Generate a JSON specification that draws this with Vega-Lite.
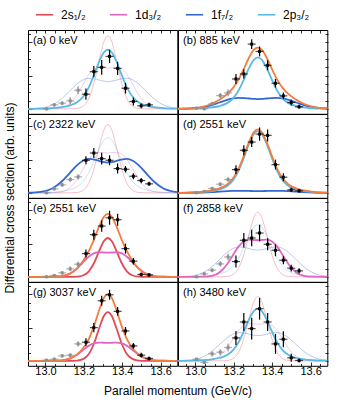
{
"$schema":"https://vega.github.io/schema/vega-lite/v6.json",
"padding":{"left":3,"top":5,"right":8,"bottom":2},
"bounds":"flush",
"data":{"values":[
{"r":1,"c":1,"x":12.909,"2p₃/₂":0.001,"rs":0,"rd":0,"rf":0.003},
{"r":1,"c":1,"x":12.975,"2p₃/₂":0.005,"rs":0,"rd":0,"rf":0.025},
{"r":1,"c":1,"x":13.035,"2p₃/₂":0.02,"rs":0,"rd":0.004,"rf":0.118},
{"r":1,"c":1,"x":13.085,"2p₃/₂":0.05,"rs":0,"rd":0.036,"rf":0.306},
{"r":1,"c":1,"x":13.125,"2p₃/₂":0.096,"rs":0,"rd":0.149,"rf":0.529},
{"r":1,"c":1,"x":13.165,"2p₃/₂":0.198,"rs":0.013,"rd":0.424,"rf":0.753},
{"r":1,"c":1,"x":13.195,"2p₃/₂":0.356,"rs":0.075,"rd":0.728,"rf":0.872},
{"r":1,"c":1,"x":13.225,"2p₃/₂":0.639,"rs":0.297,"rd":1.024,"rf":0.92},
{"r":1,"c":1,"x":13.255,"2p₃/₂":1.054,"rs":0.825,"rd":1.206,"rf":0.904},
{"r":1,"c":1,"x":13.28,"2p₃/₂":1.426,"rs":1.467,"rd":1.25,"rf":0.866},
{"r":1,"c":1,"x":13.305,"2p₃/₂":1.703,"rs":2.031,"rd":1.238,"rf":0.833},
{"r":1,"c":1,"x":13.325,"2p₃/₂":1.78,"rs":2.2,"rd":1.23,"rf":0.822},
{"r":1,"c":1,"x":13.345,"2p₃/₂":1.703,"rs":2.031,"rd":1.238,"rf":0.833},
{"r":1,"c":1,"x":13.37,"2p₃/₂":1.426,"rs":1.467,"rd":1.25,"rf":0.866},
{"r":1,"c":1,"x":13.395,"2p₃/₂":1.054,"rs":0.825,"rd":1.206,"rf":0.904},
{"r":1,"c":1,"x":13.425,"2p₃/₂":0.639,"rs":0.297,"rd":1.024,"rf":0.92},
{"r":1,"c":1,"x":13.455,"2p₃/₂":0.356,"rs":0.075,"rd":0.728,"rf":0.872},
{"r":1,"c":1,"x":13.485,"2p₃/₂":0.198,"rs":0.013,"rd":0.424,"rf":0.753},
{"r":1,"c":1,"x":13.525,"2p₃/₂":0.096,"rs":0,"rd":0.149,"rf":0.529},
{"r":1,"c":1,"x":13.565,"2p₃/₂":0.05,"rs":0,"rd":0.036,"rf":0.306},
{"r":1,"c":1,"x":13.615,"2p₃/₂":0.02,"rs":0,"rd":0.004,"rf":0.118},
{"r":1,"c":1,"x":13.687,"2p₃/₂":0.004,"rs":0,"rd":0,"rf":0.017},

{"r":1,"c":2,"x":12.909,"2p₃/₂":0.001,"1f₇/₂":0.001,"t":0.002},
{"r":1,"c":2,"x":12.975,"2p₃/₂":0.005,"1f₇/₂":0.009,"t":0.014},
{"r":1,"c":2,"x":13.035,"2p₃/₂":0.017,"1f₇/₂":0.042,"t":0.059},
{"r":1,"c":2,"x":13.085,"2p₃/₂":0.043,"1f₇/₂":0.11,"t":0.153},
{"r":1,"c":2,"x":13.125,"2p₃/₂":0.084,"1f₇/₂":0.19,"t":0.274},
{"r":1,"c":2,"x":13.165,"2p₃/₂":0.172,"1f₇/₂":0.27,"t":0.442},
{"r":1,"c":2,"x":13.195,"2p₃/₂":0.31,"1f₇/₂":0.313,"t":0.623},
{"r":1,"c":2,"x":13.225,"2p₃/₂":0.556,"1f₇/₂":0.33,"t":0.886},
{"r":1,"c":2,"x":13.255,"2p₃/₂":0.918,"1f₇/₂":0.324,"t":1.242},
{"r":1,"c":2,"x":13.28,"2p₃/₂":1.242,"1f₇/₂":0.311,"t":1.553},
{"r":1,"c":2,"x":13.305,"2p₃/₂":1.483,"1f₇/₂":0.299,"t":1.782},
{"r":1,"c":2,"x":13.325,"2p₃/₂":1.55,"1f₇/₂":0.295,"t":1.845},
{"r":1,"c":2,"x":13.345,"2p₃/₂":1.483,"1f₇/₂":0.299,"t":1.782},
{"r":1,"c":2,"x":13.37,"2p₃/₂":1.242,"1f₇/₂":0.311,"t":1.553},
{"r":1,"c":2,"x":13.395,"2p₃/₂":0.918,"1f₇/₂":0.324,"t":1.242},
{"r":1,"c":2,"x":13.425,"2p₃/₂":0.556,"1f₇/₂":0.33,"t":0.886},
{"r":1,"c":2,"x":13.455,"2p₃/₂":0.31,"1f₇/₂":0.313,"t":0.623},
{"r":1,"c":2,"x":13.485,"2p₃/₂":0.172,"1f₇/₂":0.27,"t":0.442},
{"r":1,"c":2,"x":13.525,"2p₃/₂":0.084,"1f₇/₂":0.19,"t":0.274},
{"r":1,"c":2,"x":13.565,"2p₃/₂":0.043,"1f₇/₂":0.11,"t":0.153},
{"r":1,"c":2,"x":13.615,"2p₃/₂":0.017,"1f₇/₂":0.042,"t":0.059},
{"r":1,"c":2,"x":13.687,"2p₃/₂":0.003,"1f₇/₂":0.006,"t":0.009},

{"r":2,"c":1,"x":12.909,"1f₇/₂":0.003,"rs":0,"rq":0.001,"rd":0},
{"r":2,"c":1,"x":12.975,"1f₇/₂":0.028,"rs":0,"rq":0.005,"rd":0},
{"r":2,"c":1,"x":13.035,"1f₇/₂":0.131,"rs":0,"rq":0.018,"rd":0.004},
{"r":2,"c":1,"x":13.085,"1f₇/₂":0.34,"rs":0,"rq":0.046,"rd":0.035},
{"r":2,"c":1,"x":13.125,"1f₇/₂":0.587,"rs":0,"rq":0.09,"rd":0.145},
{"r":2,"c":1,"x":13.165,"1f₇/₂":0.835,"rs":0.012,"rq":0.184,"rd":0.414},
{"r":2,"c":1,"x":13.195,"1f₇/₂":0.967,"rs":0.07,"rq":0.332,"rd":0.71},
{"r":2,"c":1,"x":13.225,"1f₇/₂":1.02,"rs":0.278,"rq":0.596,"rd":0.999},
{"r":2,"c":1,"x":13.255,"1f₇/₂":1.003,"rs":0.773,"rq":0.983,"rd":1.177},
{"r":2,"c":1,"x":13.28,"1f₇/₂":0.96,"rs":1.374,"rq":1.33,"rd":1.22},
{"r":2,"c":1,"x":13.305,"1f₇/₂":0.923,"rs":1.901,"rq":1.589,"rd":1.208},
{"r":2,"c":1,"x":13.325,"1f₇/₂":0.912,"rs":2.06,"rq":1.66,"rd":1.2},
{"r":2,"c":1,"x":13.345,"1f₇/₂":0.923,"rs":1.901,"rq":1.589,"rd":1.208},
{"r":2,"c":1,"x":13.37,"1f₇/₂":0.96,"rs":1.374,"rq":1.33,"rd":1.22},
{"r":2,"c":1,"x":13.395,"1f₇/₂":1.003,"rs":0.773,"rq":0.983,"rd":1.177},
{"r":2,"c":1,"x":13.425,"1f₇/₂":1.02,"rs":0.278,"rq":0.596,"rd":0.999},
{"r":2,"c":1,"x":13.455,"1f₇/₂":0.967,"rs":0.07,"rq":0.332,"rd":0.71},
{"r":2,"c":1,"x":13.485,"1f₇/₂":0.835,"rs":0.012,"rq":0.184,"rd":0.414},
{"r":2,"c":1,"x":13.525,"1f₇/₂":0.587,"rs":0,"rq":0.09,"rd":0.145},
{"r":2,"c":1,"x":13.565,"1f₇/₂":0.34,"rs":0,"rq":0.046,"rd":0.035},
{"r":2,"c":1,"x":13.615,"1f₇/₂":0.131,"rs":0,"rq":0.018,"rd":0.004},
{"r":2,"c":1,"x":13.687,"1f₇/₂":0.019,"rs":0,"rq":0.003,"rd":0},

{"r":2,"c":2,"x":12.909,"2p₃/₂":0.001,"1f₇/₂":0,"t":0.001},
{"r":2,"c":2,"x":12.975,"2p₃/₂":0.006,"1f₇/₂":0.002,"t":0.008},
{"r":2,"c":2,"x":13.035,"2p₃/₂":0.02,"1f₇/₂":0.008,"t":0.028},
{"r":2,"c":2,"x":13.085,"2p₃/₂":0.052,"1f₇/₂":0.02,"t":0.072},
{"r":2,"c":2,"x":13.125,"2p₃/₂":0.1,"1f₇/₂":0.035,"t":0.135},
{"r":2,"c":2,"x":13.165,"2p₃/₂":0.206,"1f₇/₂":0.049,"t":0.255},
{"r":2,"c":2,"x":13.195,"2p₃/₂":0.372,"1f₇/₂":0.057,"t":0.429},
{"r":2,"c":2,"x":13.225,"2p₃/₂":0.668,"1f₇/₂":0.06,"t":0.728},
{"r":2,"c":2,"x":13.255,"2p₃/₂":1.101,"1f₇/₂":0.059,"t":1.16},
{"r":2,"c":2,"x":13.28,"2p₃/₂":1.49,"1f₇/₂":0.056,"t":1.546},
{"r":2,"c":2,"x":13.305,"2p₃/₂":1.78,"1f₇/₂":0.054,"t":1.834},
{"r":2,"c":2,"x":13.325,"2p₃/₂":1.86,"1f₇/₂":0.054,"t":1.914},
{"r":2,"c":2,"x":13.345,"2p₃/₂":1.78,"1f₇/₂":0.054,"t":1.834},
{"r":2,"c":2,"x":13.37,"2p₃/₂":1.49,"1f₇/₂":0.056,"t":1.546},
{"r":2,"c":2,"x":13.395,"2p₃/₂":1.101,"1f₇/₂":0.059,"t":1.16},
{"r":2,"c":2,"x":13.425,"2p₃/₂":0.668,"1f₇/₂":0.06,"t":0.728},
{"r":2,"c":2,"x":13.455,"2p₃/₂":0.372,"1f₇/₂":0.057,"t":0.429},
{"r":2,"c":2,"x":13.485,"2p₃/₂":0.206,"1f₇/₂":0.049,"t":0.255},
{"r":2,"c":2,"x":13.525,"2p₃/₂":0.1,"1f₇/₂":0.035,"t":0.135},
{"r":2,"c":2,"x":13.565,"2p₃/₂":0.052,"1f₇/₂":0.02,"t":0.072},
{"r":2,"c":2,"x":13.615,"2p₃/₂":0.02,"1f₇/₂":0.008,"t":0.028},
{"r":2,"c":2,"x":13.687,"2p₃/₂":0.004,"1f₇/₂":0.001,"t":0.005},

{"r":3,"c":1,"x":12.909,"2s₁/₂":0,"1d₃/₂":0,"t":0},
{"r":3,"c":1,"x":12.975,"2s₁/₂":0,"1d₃/₂":0,"t":0},
{"r":3,"c":1,"x":13.035,"2s₁/₂":0,"1d₃/₂":0.002,"t":0.002},
{"r":3,"c":1,"x":13.085,"2s₁/₂":0,"1d₃/₂":0.021,"t":0.021},
{"r":3,"c":1,"x":13.125,"2s₁/₂":0,"1d₃/₂":0.088,"t":0.088},
{"r":3,"c":1,"x":13.165,"2s₁/₂":0.007,"1d₃/₂":0.251,"t":0.258},
{"r":3,"c":1,"x":13.195,"2s₁/₂":0.04,"1d₃/₂":0.431,"t":0.471},
{"r":3,"c":1,"x":13.225,"2s₁/₂":0.158,"1d₃/₂":0.606,"t":0.764},
{"r":3,"c":1,"x":13.255,"2s₁/₂":0.439,"1d₃/₂":0.714,"t":1.153},
{"r":3,"c":1,"x":13.28,"2s₁/₂":0.78,"1d₃/₂":0.74,"t":1.52},
{"r":3,"c":1,"x":13.305,"2s₁/₂":1.08,"1d₃/₂":0.733,"t":1.813},
{"r":3,"c":1,"x":13.325,"2s₁/₂":1.17,"1d₃/₂":0.728,"t":1.898},
{"r":3,"c":1,"x":13.345,"2s₁/₂":1.08,"1d₃/₂":0.733,"t":1.813},
{"r":3,"c":1,"x":13.37,"2s₁/₂":0.78,"1d₃/₂":0.74,"t":1.52},
{"r":3,"c":1,"x":13.395,"2s₁/₂":0.439,"1d₃/₂":0.714,"t":1.153},
{"r":3,"c":1,"x":13.425,"2s₁/₂":0.158,"1d₃/₂":0.606,"t":0.764},
{"r":3,"c":1,"x":13.455,"2s₁/₂":0.04,"1d₃/₂":0.431,"t":0.471},
{"r":3,"c":1,"x":13.485,"2s₁/₂":0.007,"1d₃/₂":0.251,"t":0.258},
{"r":3,"c":1,"x":13.525,"2s₁/₂":0,"1d₃/₂":0.088,"t":0.088},
{"r":3,"c":1,"x":13.565,"2s₁/₂":0,"1d₃/₂":0.021,"t":0.021},
{"r":3,"c":1,"x":13.615,"2s₁/₂":0,"1d₃/₂":0.002,"t":0.002},
{"r":3,"c":1,"x":13.687,"2s₁/₂":0,"1d₃/₂":0,"t":0},

{"r":3,"c":2,"x":12.909,"1d₃/₂":0,"rs":0,"rq":0.001,"rf":0.003},
{"r":3,"c":2,"x":12.975,"1d₃/₂":0,"rs":0,"rq":0.005,"rf":0.024},
{"r":3,"c":2,"x":13.035,"1d₃/₂":0.003,"rs":0,"rq":0.017,"rf":0.115},
{"r":3,"c":2,"x":13.085,"1d₃/₂":0.032,"rs":0,"rq":0.044,"rf":0.3},
{"r":3,"c":2,"x":13.125,"1d₃/₂":0.133,"rs":0,"rq":0.085,"rf":0.518},
{"r":3,"c":2,"x":13.165,"1d₃/₂":0.38,"rs":0.012,"rq":0.174,"rf":0.737},
{"r":3,"c":2,"x":13.195,"1d₃/₂":0.652,"rs":0.066,"rq":0.314,"rf":0.853},
{"r":3,"c":2,"x":13.225,"1d₃/₂":0.917,"rs":0.263,"rq":0.564,"rf":0.9},
{"r":3,"c":2,"x":13.255,"1d₃/₂":1.081,"rs":0.731,"rq":0.929,"rf":0.885},
{"r":3,"c":2,"x":13.28,"1d₃/₂":1.12,"rs":1.301,"rq":1.258,"rf":0.847},
{"r":3,"c":2,"x":13.305,"1d₃/₂":1.109,"rs":1.8,"rq":1.502,"rf":0.815},
{"r":3,"c":2,"x":13.325,"1d₃/₂":1.102,"rs":1.95,"rq":1.57,"rf":0.805},
{"r":3,"c":2,"x":13.345,"1d₃/₂":1.109,"rs":1.8,"rq":1.502,"rf":0.815},
{"r":3,"c":2,"x":13.37,"1d₃/₂":1.12,"rs":1.301,"rq":1.258,"rf":0.847},
{"r":3,"c":2,"x":13.395,"1d₃/₂":1.081,"rs":0.731,"rq":0.929,"rf":0.885},
{"r":3,"c":2,"x":13.425,"1d₃/₂":0.917,"rs":0.263,"rq":0.564,"rf":0.9},
{"r":3,"c":2,"x":13.455,"1d₃/₂":0.652,"rs":0.066,"rq":0.314,"rf":0.853},
{"r":3,"c":2,"x":13.485,"1d₃/₂":0.38,"rs":0.012,"rq":0.174,"rf":0.737},
{"r":3,"c":2,"x":13.525,"1d₃/₂":0.133,"rs":0,"rq":0.085,"rf":0.518},
{"r":3,"c":2,"x":13.565,"1d₃/₂":0.032,"rs":0,"rq":0.044,"rf":0.3},
{"r":3,"c":2,"x":13.615,"1d₃/₂":0.003,"rs":0,"rq":0.017,"rf":0.115},
{"r":3,"c":2,"x":13.687,"1d₃/₂":0,"rs":0,"rq":0.003,"rf":0.017},

{"r":4,"c":1,"x":12.909,"2s₁/₂":0,"1d₃/₂":0,"t":0},
{"r":4,"c":1,"x":12.975,"2s₁/₂":0,"1d₃/₂":0,"t":0},
{"r":4,"c":1,"x":13.035,"2s₁/₂":0,"1d₃/₂":0.002,"t":0.002},
{"r":4,"c":1,"x":13.085,"2s₁/₂":0,"1d₃/₂":0.016,"t":0.016},
{"r":4,"c":1,"x":13.125,"2s₁/₂":0,"1d₃/₂":0.065,"t":0.065},
{"r":4,"c":1,"x":13.165,"2s₁/₂":0.009,"1d₃/₂":0.186,"t":0.195},
{"r":4,"c":1,"x":13.195,"2s₁/₂":0.05,"1d₃/₂":0.32,"t":0.37},
{"r":4,"c":1,"x":13.225,"2s₁/₂":0.198,"1d₃/₂":0.45,"t":0.648},
{"r":4,"c":1,"x":13.255,"2s₁/₂":0.551,"1d₃/₂":0.531,"t":1.082},
{"r":4,"c":1,"x":13.28,"2s₁/₂":0.98,"1d₃/₂":0.55,"t":1.53},
{"r":4,"c":1,"x":13.305,"2s₁/₂":1.357,"1d₃/₂":0.545,"t":1.902},
{"r":4,"c":1,"x":13.325,"2s₁/₂":1.47,"1d₃/₂":0.541,"t":2.011},
{"r":4,"c":1,"x":13.345,"2s₁/₂":1.357,"1d₃/₂":0.545,"t":1.902},
{"r":4,"c":1,"x":13.37,"2s₁/₂":0.98,"1d₃/₂":0.55,"t":1.53},
{"r":4,"c":1,"x":13.395,"2s₁/₂":0.551,"1d₃/₂":0.531,"t":1.082},
{"r":4,"c":1,"x":13.425,"2s₁/₂":0.198,"1d₃/₂":0.45,"t":0.648},
{"r":4,"c":1,"x":13.455,"2s₁/₂":0.05,"1d₃/₂":0.32,"t":0.37},
{"r":4,"c":1,"x":13.485,"2s₁/₂":0.009,"1d₃/₂":0.186,"t":0.195},
{"r":4,"c":1,"x":13.525,"2s₁/₂":0,"1d₃/₂":0.065,"t":0.065},
{"r":4,"c":1,"x":13.565,"2s₁/₂":0,"1d₃/₂":0.016,"t":0.016},
{"r":4,"c":1,"x":13.615,"2s₁/₂":0,"1d₃/₂":0.002,"t":0.002},
{"r":4,"c":1,"x":13.687,"2s₁/₂":0,"1d₃/₂":0,"t":0},

{"r":4,"c":2,"x":12.909,"2p₃/₂":0.001,"rs":0,"rd":0,"rf":0.003},
{"r":4,"c":2,"x":12.975,"2p₃/₂":0.005,"rs":0,"rd":0,"rf":0.023},
{"r":4,"c":2,"x":13.035,"2p₃/₂":0.017,"rs":0,"rd":0.003,"rf":0.109},
{"r":4,"c":2,"x":13.085,"2p₃/₂":0.044,"rs":0,"rd":0.032,"rf":0.283},
{"r":4,"c":2,"x":13.125,"2p₃/₂":0.085,"rs":0,"rd":0.133,"rf":0.489},
{"r":4,"c":2,"x":13.165,"2p₃/₂":0.174,"rs":0.012,"rd":0.38,"rf":0.696},
{"r":4,"c":2,"x":13.195,"2p₃/₂":0.314,"rs":0.066,"rd":0.652,"rf":0.806},
{"r":4,"c":2,"x":13.225,"2p₃/₂":0.564,"rs":0.262,"rd":0.917,"rf":0.85},
{"r":4,"c":2,"x":13.255,"2p₃/₂":0.929,"rs":0.728,"rd":1.081,"rf":0.836},
{"r":4,"c":2,"x":13.28,"2p₃/₂":1.258,"rs":1.294,"rd":1.12,"rf":0.8},
{"r":4,"c":2,"x":13.305,"2p₃/₂":1.502,"rs":1.791,"rd":1.109,"rf":0.769},
{"r":4,"c":2,"x":13.325,"2p₃/₂":1.57,"rs":1.94,"rd":1.102,"rf":0.76},
{"r":4,"c":2,"x":13.345,"2p₃/₂":1.502,"rs":1.791,"rd":1.109,"rf":0.769},
{"r":4,"c":2,"x":13.37,"2p₃/₂":1.258,"rs":1.294,"rd":1.12,"rf":0.8},
{"r":4,"c":2,"x":13.395,"2p₃/₂":0.929,"rs":0.728,"rd":1.081,"rf":0.836},
{"r":4,"c":2,"x":13.425,"2p₃/₂":0.564,"rs":0.262,"rd":0.917,"rf":0.85},
{"r":4,"c":2,"x":13.455,"2p₃/₂":0.314,"rs":0.066,"rd":0.652,"rf":0.806},
{"r":4,"c":2,"x":13.485,"2p₃/₂":0.174,"rs":0.012,"rd":0.38,"rf":0.696},
{"r":4,"c":2,"x":13.525,"2p₃/₂":0.085,"rs":0,"rd":0.133,"rf":0.489},
{"r":4,"c":2,"x":13.565,"2p₃/₂":0.044,"rs":0,"rd":0.032,"rf":0.283},
{"r":4,"c":2,"x":13.615,"2p₃/₂":0.017,"rs":0,"rd":0.003,"rf":0.109},
{"r":4,"c":2,"x":13.687,"2p₃/₂":0.003,"rs":0,"rd":0,"rf":0.016},

{"r":1,"c":1,"px":13.005,"py":0,"lo":-0.05,"hi":0.05,"g":1},
{"r":1,"c":1,"px":13.046,"py":0.12,"lo":0.07,"hi":0.17,"g":1},
{"r":1,"c":1,"px":13.087,"py":0.17,"lo":0.11,"hi":0.23,"g":1},
{"r":1,"c":1,"px":13.129,"py":0.24,"lo":0.13,"hi":0.35,"g":1},
{"r":1,"c":1,"px":13.17,"py":0.56,"lo":0.44,"hi":0.68,"g":1},
{"r":1,"c":1,"px":13.211,"py":0.44,"lo":0.27,"hi":0.61,"g":0},
{"r":1,"c":1,"px":13.252,"py":1.12,"lo":0.95,"hi":1.29,"g":0},
{"r":1,"c":1,"px":13.293,"py":1.25,"lo":1.03,"hi":1.47,"g":0},
{"r":1,"c":1,"px":13.334,"py":1.58,"lo":1.38,"hi":1.78,"g":0},
{"r":1,"c":1,"px":13.376,"py":1.22,"lo":1.02,"hi":1.42,"g":0},
{"r":1,"c":1,"px":13.417,"py":0.62,"lo":0.46,"hi":0.78,"g":0},
{"r":1,"c":1,"px":13.458,"py":0.22,"lo":0.1,"hi":0.34,"g":0},
{"r":1,"c":1,"px":13.499,"py":0.09,"lo":0.02,"hi":0.16,"g":0},
{"r":1,"c":1,"px":13.54,"py":0.12,"lo":0.06,"hi":0.18,"g":0},

{"r":1,"c":2,"px":13.005,"py":0.02,"lo":-0.02,"hi":0.06,"g":1},
{"r":1,"c":2,"px":13.046,"py":0,"lo":-0.04,"hi":0.04,"g":1},
{"r":1,"c":2,"px":13.087,"py":0.15,"lo":0.09,"hi":0.21,"g":1},
{"r":1,"c":2,"px":13.129,"py":0.4,"lo":0.32,"hi":0.48,"g":1},
{"r":1,"c":2,"px":13.17,"py":0.48,"lo":0.38,"hi":0.58,"g":1},
{"r":1,"c":2,"px":13.211,"py":0.9,"lo":0.75,"hi":1.05,"g":0},
{"r":1,"c":2,"px":13.252,"py":1.05,"lo":0.91,"hi":1.19,"g":0},
{"r":1,"c":2,"px":13.293,"py":1.95,"lo":1.8,"hi":2.1,"g":0},
{"r":1,"c":2,"px":13.334,"py":1.73,"lo":1.58,"hi":1.88,"g":0},
{"r":1,"c":2,"px":13.376,"py":1.31,"lo":1.16,"hi":1.46,"g":0},
{"r":1,"c":2,"px":13.417,"py":0.77,"lo":0.64,"hi":0.9,"g":0},
{"r":1,"c":2,"px":13.458,"py":0.39,"lo":0.29,"hi":0.49,"g":0},
{"r":1,"c":2,"px":13.499,"py":0.19,"lo":0.1,"hi":0.28,"g":0},
{"r":1,"c":2,"px":13.54,"py":0.06,"lo":0,"hi":0.12,"g":0},

{"r":2,"c":1,"px":13.005,"py":0,"lo":-0.04,"hi":0.04,"g":1},
{"r":2,"c":1,"px":13.046,"py":0.12,"lo":0.07,"hi":0.17,"g":1},
{"r":2,"c":1,"px":13.087,"py":0.24,"lo":0.18,"hi":0.3,"g":1},
{"r":2,"c":1,"px":13.129,"py":0.4,"lo":0.33,"hi":0.47,"g":1},
{"r":2,"c":1,"px":13.17,"py":0.48,"lo":0.4,"hi":0.56,"g":1},
{"r":2,"c":1,"px":13.211,"py":0.98,"lo":0.86,"hi":1.1,"g":0},
{"r":2,"c":1,"px":13.252,"py":1.2,"lo":1.05,"hi":1.35,"g":0},
{"r":2,"c":1,"px":13.293,"py":1.03,"lo":0.85,"hi":1.21,"g":0},
{"r":2,"c":1,"px":13.334,"py":0.98,"lo":0.83,"hi":1.13,"g":0},
{"r":2,"c":1,"px":13.376,"py":0.73,"lo":0.58,"hi":0.88,"g":0},
{"r":2,"c":1,"px":13.417,"py":0.71,"lo":0.61,"hi":0.81,"g":0},
{"r":2,"c":1,"px":13.458,"py":0.5,"lo":0.41,"hi":0.59,"g":0},
{"r":2,"c":1,"px":13.499,"py":0.37,"lo":0.29,"hi":0.45,"g":0},
{"r":2,"c":1,"px":13.54,"py":0.27,"lo":0.21,"hi":0.33,"g":0},

{"r":2,"c":2,"px":13.005,"py":0,"lo":-0.04,"hi":0.04,"g":1},
{"r":2,"c":2,"px":13.046,"py":0.04,"lo":0,"hi":0.08,"g":1},
{"r":2,"c":2,"px":13.087,"py":0.13,"lo":0.08,"hi":0.18,"g":1},
{"r":2,"c":2,"px":13.129,"py":0.26,"lo":0.2,"hi":0.32,"g":1},
{"r":2,"c":2,"px":13.17,"py":0.4,"lo":0.33,"hi":0.47,"g":1},
{"r":2,"c":2,"px":13.211,"py":0.7,"lo":0.57,"hi":0.83,"g":0},
{"r":2,"c":2,"px":13.252,"py":1.28,"lo":1.13,"hi":1.43,"g":0},
{"r":2,"c":2,"px":13.293,"py":1.53,"lo":1.38,"hi":1.68,"g":0},
{"r":2,"c":2,"px":13.334,"py":1.77,"lo":1.57,"hi":1.97,"g":0},
{"r":2,"c":2,"px":13.376,"py":1.73,"lo":1.55,"hi":1.91,"g":0},
{"r":2,"c":2,"px":13.417,"py":0.85,"lo":0.7,"hi":1.0,"g":0},
{"r":2,"c":2,"px":13.458,"py":0.47,"lo":0.35,"hi":0.59,"g":0},
{"r":2,"c":2,"px":13.499,"py":0.09,"lo":0.03,"hi":0.15,"g":0},
{"r":2,"c":2,"px":13.54,"py":0.06,"lo":0.01,"hi":0.11,"g":0},

{"r":3,"c":1,"px":13.005,"py":0,"lo":-0.04,"hi":0.04,"g":1},
{"r":3,"c":1,"px":13.046,"py":0.04,"lo":0,"hi":0.08,"g":1},
{"r":3,"c":1,"px":13.087,"py":0.12,"lo":0.07,"hi":0.17,"g":1},
{"r":3,"c":1,"px":13.129,"py":0.24,"lo":0.17,"hi":0.31,"g":1},
{"r":3,"c":1,"px":13.17,"py":0.38,"lo":0.3,"hi":0.46,"g":1},
{"r":3,"c":1,"px":13.211,"py":0.7,"lo":0.58,"hi":0.82,"g":0},
{"r":3,"c":1,"px":13.252,"py":1.27,"lo":1.12,"hi":1.42,"g":0},
{"r":3,"c":1,"px":13.293,"py":1.53,"lo":1.36,"hi":1.7,"g":0},
{"r":3,"c":1,"px":13.334,"py":1.78,"lo":1.57,"hi":1.99,"g":0},
{"r":3,"c":1,"px":13.376,"py":1.72,"lo":1.54,"hi":1.9,"g":0},
{"r":3,"c":1,"px":13.417,"py":0.85,"lo":0.7,"hi":1.0,"g":0},
{"r":3,"c":1,"px":13.458,"py":0.47,"lo":0.37,"hi":0.57,"g":0},
{"r":3,"c":1,"px":13.499,"py":0.07,"lo":0.01,"hi":0.13,"g":0},
{"r":3,"c":1,"px":13.54,"py":0.06,"lo":0.01,"hi":0.11,"g":0},

{"r":3,"c":2,"px":13.005,"py":0,"lo":-0.04,"hi":0.04,"g":1},
{"r":3,"c":2,"px":13.046,"py":0.09,"lo":0.04,"hi":0.14,"g":1},
{"r":3,"c":2,"px":13.087,"py":0.2,"lo":0.14,"hi":0.26,"g":1},
{"r":3,"c":2,"px":13.129,"py":0.39,"lo":0.31,"hi":0.47,"g":1},
{"r":3,"c":2,"px":13.17,"py":0.6,"lo":0.5,"hi":0.7,"g":1},
{"r":3,"c":2,"px":13.211,"py":0.46,"lo":0.28,"hi":0.64,"g":0},
{"r":3,"c":2,"px":13.252,"py":1.1,"lo":0.88,"hi":1.32,"g":0},
{"r":3,"c":2,"px":13.293,"py":1.17,"lo":0.92,"hi":1.42,"g":0},
{"r":3,"c":2,"px":13.334,"py":1.32,"lo":1.07,"hi":1.57,"g":0},
{"r":3,"c":2,"px":13.376,"py":0.98,"lo":0.8,"hi":1.16,"g":0},
{"r":3,"c":2,"px":13.417,"py":0.8,"lo":0.62,"hi":0.98,"g":0},
{"r":3,"c":2,"px":13.458,"py":0.5,"lo":0.38,"hi":0.62,"g":0},
{"r":3,"c":2,"px":13.499,"py":0.26,"lo":0.16,"hi":0.36,"g":0},
{"r":3,"c":2,"px":13.54,"py":0.18,"lo":0.1,"hi":0.26,"g":0},

{"r":4,"c":1,"px":13.005,"py":0.02,"lo":-0.02,"hi":0.06,"g":1},
{"r":4,"c":1,"px":13.046,"py":0.05,"lo":0.01,"hi":0.09,"g":1},
{"r":4,"c":1,"px":13.087,"py":0.15,"lo":0.1,"hi":0.2,"g":1},
{"r":4,"c":1,"px":13.129,"py":0.17,"lo":0.11,"hi":0.23,"g":1},
{"r":4,"c":1,"px":13.17,"py":0.51,"lo":0.43,"hi":0.59,"g":1},
{"r":4,"c":1,"px":13.211,"py":0.56,"lo":0.44,"hi":0.68,"g":0},
{"r":4,"c":1,"px":13.252,"py":1.0,"lo":0.86,"hi":1.14,"g":0},
{"r":4,"c":1,"px":13.293,"py":1.81,"lo":1.66,"hi":1.96,"g":0},
{"r":4,"c":1,"px":13.334,"py":1.99,"lo":1.84,"hi":2.14,"g":0},
{"r":4,"c":1,"px":13.376,"py":1.49,"lo":1.36,"hi":1.62,"g":0},
{"r":4,"c":1,"px":13.417,"py":0.9,"lo":0.78,"hi":1.02,"g":0},
{"r":4,"c":1,"px":13.458,"py":0.45,"lo":0.36,"hi":0.54,"g":0},
{"r":4,"c":1,"px":13.499,"py":0.17,"lo":0.1,"hi":0.24,"g":0},
{"r":4,"c":1,"px":13.54,"py":0.07,"lo":0.01,"hi":0.13,"g":0},

{"r":4,"c":2,"px":13.005,"py":0.05,"lo":0.01,"hi":0.09,"g":1},
{"r":4,"c":2,"px":13.046,"py":-0.05,"lo":-0.09,"hi":-0.01,"g":1},
{"r":4,"c":2,"px":13.087,"py":0.21,"lo":0.13,"hi":0.29,"g":1},
{"r":4,"c":2,"px":13.129,"py":0.26,"lo":0.17,"hi":0.35,"g":1},
{"r":4,"c":2,"px":13.17,"py":0.4,"lo":0.28,"hi":0.52,"g":1},
{"r":4,"c":2,"px":13.211,"py":0.69,"lo":0.48,"hi":0.9,"g":0},
{"r":4,"c":2,"px":13.252,"py":1.17,"lo":0.9,"hi":1.44,"g":0},
{"r":4,"c":2,"px":13.293,"py":0.97,"lo":0.64,"hi":1.3,"g":0},
{"r":4,"c":2,"px":13.334,"py":1.57,"lo":1.24,"hi":1.9,"g":0},
{"r":4,"c":2,"px":13.376,"py":1.17,"lo":0.9,"hi":1.44,"g":0},
{"r":4,"c":2,"px":13.417,"py":0.51,"lo":0.21,"hi":0.81,"g":0},
{"r":4,"c":2,"px":13.458,"py":0.65,"lo":0.41,"hi":0.89,"g":0},
{"r":4,"c":2,"px":13.499,"py":0.09,"lo":-0.03,"hi":0.21,"g":0},
{"r":4,"c":2,"px":13.54,"py":0.01,"lo":-0.05,"hi":0.07,"g":0},

{"r":1,"c":1,"lab":"(a) 0 keV"},
{"r":1,"c":2,"lab":"(b) 885 keV"},
{"r":2,"c":1,"lab":"(c) 2322 keV"},
{"r":2,"c":2,"lab":"(d) 2551 keV"},
{"r":3,"c":1,"lab":"(e) 2551 keV"},
{"r":3,"c":2,"lab":"(f) 2858 keV"},
{"r":4,"c":1,"lab":"(g) 3037 keV"},
{"r":4,"c":2,"lab":"(h) 3480 keV"}
]},
"facet":{
 "row":{"field":"r","type":"ordinal","header":{"labels":false,"title":"Differential cross section (arb. units)","titleOrient":"left","titleFontSize":12,"titleFontWeight":"normal","titleFont":"Liberation Sans","titlePadding":0}},
 "column":{"field":"c","type":"ordinal","header":{"labels":false,"title":"Parallel momentum (GeV/c)","titleOrient":"bottom","titleFontSize":12,"titleFontWeight":"normal","titleFont":"Liberation Sans","titlePadding":0}}
},
"spacing":{"row":0,"column":0},
"spec":{
 "width":149.3,"height":83.8,
 "resolve":{"axis":{"x":"independent","y":"independent"}},
 "layer":[
  {"transform":[{"filter":"isValid(datum.rs)"}],
   "mark":{"type":"line","interpolate":"monotone","strokeWidth":1,"opacity":0.35,"color":"#e34a55"},
   "encoding":{
    "x":{"field":"x","type":"quantitative","title":null,"scale":{"domain":[12.909,13.687],"nice":false,"zero":false},
      "axis":{"values":[13.0,13.2,13.4,13.6],"format":".1f","tickSize":-4,"labelPadding":3,"labelFlush":false,"labelOverlap":false}},
    "y":{"field":"rs","type":"quantitative","title":null,"scale":{"domain":[-0.15,2.375],"nice":false,"zero":false},
      "axis":{"values":[0,1,2],"labels":false,"tickSize":-4}}}},
  {"transform":[{"filter":"isValid(datum.rd)"}],
   "mark":{"type":"line","interpolate":"monotone","strokeWidth":1,"opacity":0.35,"color":"#e066c4"},
   "encoding":{"x":{"field":"x","type":"quantitative","title":null,"axis":{"orient":"top","values":[12.95,13.0,13.05,13.1,13.15,13.2,13.25,13.3,13.35,13.4,13.45,13.5,13.55,13.6,13.65],"labels":false,"tickSize":-3}},
     "y":{"field":"rd","type":"quantitative","title":null,"axis":{"orient":"right","values":[0,0.25,0.5,0.75,1,1.25,1.5,1.75,2,2.25],"labels":false,"tickSize":-3}}}},
  {"transform":[{"filter":"isValid(datum.rf)"}],
   "mark":{"type":"line","interpolate":"monotone","strokeWidth":1,"opacity":0.35,"color":"#3566d6"},
   "encoding":{"x":{"field":"x","type":"quantitative","title":null,"axis":{"values":[12.95,13.05,13.1,13.15,13.25,13.3,13.35,13.45,13.5,13.55,13.65],"labels":false,"tickSize":-2.5}},
     "y":{"field":"rf","type":"quantitative","title":null,"axis":{"values":[0.25,0.5,0.75,1.25,1.5,1.75,2.25],"labels":false,"tickSize":-2.5}}}},
  {"transform":[{"filter":"isValid(datum.rq)"}],
   "mark":{"type":"line","interpolate":"monotone","strokeWidth":1,"opacity":0.35,"color":"#58b9e6"},
   "encoding":{"x":{"field":"x","type":"quantitative","axis":null},"y":{"field":"rq","type":"quantitative","axis":null}}},
  {"transform":[{"fold":["2s₁/₂","1d₃/₂","1f₇/₂","2p₃/₂"],"as":["comp","val"]},{"filter":"isValid(datum.val)"}],
   "mark":{"type":"line","interpolate":"monotone","strokeWidth":1.8},
   "encoding":{"x":{"field":"x","type":"quantitative","axis":null},"y":{"field":"val","type":"quantitative","axis":null},
    "color":{"field":"comp","type":"nominal","scale":{"domain":["2s₁/₂","1d₃/₂","1f₇/₂","2p₃/₂"],"range":["#e34a55","#e066c4","#3566d6","#58b9e6"]},
      "legend":{"title":"\u00a0","titleOrient":"left","titlePadding":7,"orient":"top","direction":"horizontal","symbolType":"stroke","symbolStrokeWidth":1.6,"symbolSize":300,"labelFontSize":12,"labelFont":"Liberation Sans","columnPadding":20,"labelOffset":7,"offset":8,"padding":0}}}},
  {"transform":[{"filter":"isValid(datum.t)"}],
   "mark":{"type":"line","interpolate":"monotone","strokeWidth":1.8,"color":"#f47c3c"},
   "encoding":{"x":{"field":"x","type":"quantitative","axis":null},"y":{"field":"t","type":"quantitative","axis":null}}},
  {"transform":[{"filter":"isValid(datum.py)"}],
   "mark":{"type":"rule","strokeWidth":1.2},
   "encoding":{"x":{"field":"px","type":"quantitative","axis":null},"y":{"field":"lo","type":"quantitative","axis":null},"y2":{"field":"hi"},
    "color":{"condition":{"test":"datum.g==1","value":"#8f8f8f"},"value":"#000000"}}},
  {"transform":[{"filter":"isValid(datum.py)"}],
   "mark":{"type":"tick","orient":"horizontal","size":8,"thickness":1.2},
   "encoding":{"x":{"field":"px","type":"quantitative","axis":null},"y":{"field":"py","type":"quantitative","axis":null},
    "color":{"condition":{"test":"datum.g==1","value":"#8f8f8f"},"value":"#000000"}}},
  {"transform":[{"filter":"isValid(datum.py)"}],
   "mark":{"type":"point","filled":true,"shape":"square","size":9,"opacity":1},
   "encoding":{"x":{"field":"px","type":"quantitative","axis":null},"y":{"field":"py","type":"quantitative","axis":null},
    "color":{"condition":{"test":"datum.g==1","value":"#8f8f8f"},"value":"#000000"}}},
  {"transform":[{"filter":"isValid(datum.lab)"}],
   "mark":{"type":"text","align":"left","baseline":"middle","fontSize":11,"font":"Liberation Sans","color":"#000000"},
   "encoding":{"x":{"datum":12.935,"type":"quantitative","axis":null},"y":{"datum":2.05,"type":"quantitative","axis":null},"text":{"field":"lab"}}}
 ]
},
"config":{
 "view":{"stroke":"#000000","strokeWidth":1},
 "axis":{"domain":false,"grid":false,"tickColor":"#000000","tickWidth":0.8,"labelFont":"Liberation Sans","labelFontSize":11,"labelColor":"#000000"},
 "font":"Liberation Sans"
}
}
